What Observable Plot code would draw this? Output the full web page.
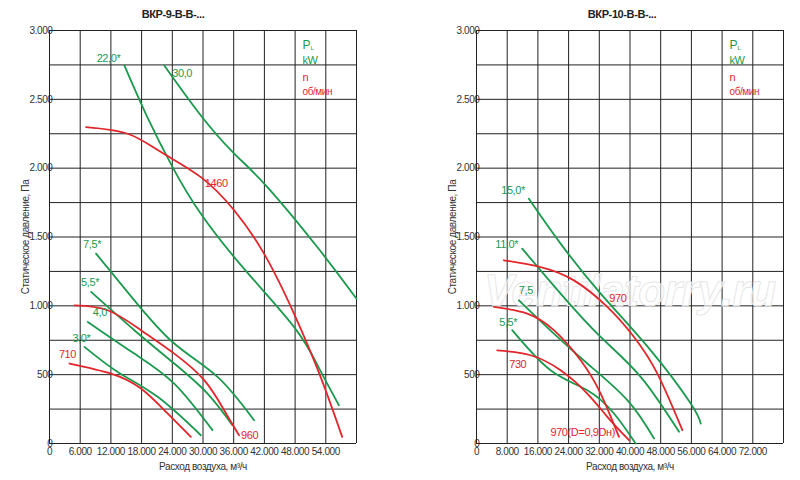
<!DOCTYPE html>
<html><head><meta charset="utf-8">
<script src="https://cdn.jsdelivr.net/npm/d3@7"></script>
<script src="https://cdn.jsdelivr.net/npm/@observablehq/plot@0.6"></script>
<style>
body{margin:0;background:#fff;}
#wrap{display:flex;width:800px;height:480px;}
</style></head><body><div id="wrap"></div>
<script>
// ---- Panel 1: ВКР-9-В-В-...
const title1 = "ВКР-9-В-В-...";
const xTicks1 = [0,6000,12000,18000,24000,30000,36000,42000,48000,54000];
const xGrid1 = [0,6000,12000,18000,24000,30000,36000,42000,48000,54000,60000];
const p22 = [[14630,2746],[19000,2380],[24050,2008],[29580,1669],[38000,1270],[47780,847],[52500,560],[56560,278]];
const p30 = [[22430,2746],[29580,2383],[36000,2110],[42580,1863],[52330,1427],[60000,1052]];
const n1460 = [[7150,2298],[15280,2250],[21780,2117],[29580,1935],[36080,1694],[41930,1379],[47780,944],[52980,484],[57200,48]];
const p75a = [[9100,1379],[16580,1040],[24380,726],[32830,484],[39980,169]];
const p55a = [[8130,1101],[16580,823],[24380,581],[30880,363],[35750,133]];
const p40 = [[7480,883],[16580,653],[24380,435],[31850,97]];
const p30a = [[6830,702],[13330,520],[21130,339],[29580,60]];
const n960 = [[4880,1004],[11380,968],[17880,823],[24380,653],[30230,460],[34130,242],[37050,60]];
const n710 = [[3900,581],[12030,508],[17880,399],[23080,218],[27630,48]];
const curves1 = [
  {pts:p22,c:"g",label:"22,0*",at:0,dx:-4,dy:-7,anchor:"end"},
  {pts:p30,c:"g",label:"30,0",at:0,dx:8,dy:8,anchor:"start"},
  {pts:n1460,c:"r",label:"1460",at:3,dx:4,dy:6,anchor:"start"},
  {pts:p75a,c:"g",label:"7,5*",at:0,dx:-4,dy:-9,anchor:"middle"},
  {pts:p55a,c:"g",label:"5,5*",at:0,dx:-1,dy:-9,anchor:"middle"},
  {pts:p40,c:"g",label:"4,0",at:0,dx:5,dy:-9,anchor:"start"},
  {pts:p30a,c:"g",label:"3,0*",at:0,dx:-3,dy:-8,anchor:"middle"},
  {pts:n960,c:"r",label:"960",at:6,dx:2,dy:0,anchor:"start"},
  {pts:n710,c:"r",label:"710",at:0,dx:-2,dy:-9,anchor:"middle"}
];
// ---- Panel 2: ВКР-10-В-В-...
const title2 = "ВКР-10-В-В-...";
const xTicks2 = [0,8000,16000,24000,32000,40000,48000,56000,64000,72000];
const xGrid2 = [0,8000,16000,24000,32000,40000,48000,56000,64000,72000,80000];
const p150 = [[13650,1778],[21910,1452],[32350,1089],[45390,677],[55830,290],[58430,145]];
const p110 = [[11910,1415],[21910,1089],[32350,774],[42780,484],[52780,85]];
const p75b = [[11040,1040],[20170,798],[28870,581],[39300,315],[46260,36]];
const p55b = [[9300,823],[19300,532],[28870,387],[35830,218],[41480,0]];
const n970 = [[7130,1331],[16700,1282],[25390,1185],[34090,992],[41040,774],[47130,508],[53650,97]];
const n970d = [[4520,992],[13220,944],[20170,823],[27130,605],[32350,363],[37130,48]];
const n730 = [[5390,677],[14090,641],[21910,532],[28870,363],[34090,194],[39740,24]];
const curves2 = [
  {pts:p150,c:"g",label:"15,0*",at:0,dx:-4,dy:-8,anchor:"end"},
  {pts:p110,c:"g",label:"11,0*",at:0,dx:-4,dy:-4,anchor:"end"},
  {pts:p75b,c:"g",label:"7,5",at:0,dx:0,dy:-10,anchor:"start"},
  {pts:p55b,c:"g",label:"5,5*",at:0,dx:-4,dy:-8,anchor:"middle"},
  {pts:n970,c:"r",label:"970",at:3,dx:2,dy:-8,anchor:"start"},
  {pts:n970d,c:"r",label:"970(D=0,9Dн)",at:5,dx:-4,dy:-4,anchor:"end"},
  {pts:n730,c:"r",label:"730",at:0,dx:12,dy:14,anchor:"start"}
];
const yTicks = [0,500,1000,1500,2000,2500,3000];
const yGrid = d3.range(0,3001,250);

const GREEN="#1b9a4e", RED="#e2262b";
const fmt = d => d===0 ? "0" : d3.format(",")(d).replace(/,/g,".");

function panel(title, xMax, xTicks, xGrid, curves, ml, mr, titleX, watermark){
  const lines=[], labels=[];
  curves.forEach((c,i)=>{
    c.pts.forEach(p=>lines.push({x:p[0],y:p[1],id:i,col:c.c==="g"?GREEN:RED}));
    const p=c.pts[c.at];
    labels.push({x:p[0],y:p[1],t:c.label,col:c.c==="g"?GREEN:RED,dx:c.dx,dy:c.dy,anchor:c.anchor});
  });
  const marks=[
    Plot.ruleX(xGrid,{stroke:"#222",strokeWidth:1}),
    Plot.ruleY(yGrid,{stroke:"#222",strokeWidth:1}),
  ];
  if(watermark) marks.push(Plot.text([watermark],{frameAnchor:"middle",dy:55,dx:0,text:d=>d,fontSize:44,fontStyle:"italic",fontWeight:"bold",fill:"#ffffff",fillOpacity:0.6,stroke:"#dcdcdc",strokeWidth:1}));
  marks.push(Plot.line(lines,{x:"x",y:"y",z:"id",stroke:"col",strokeWidth:1.8,curve:"natural"}));
  labels.forEach(l=>marks.push(Plot.text([l],{x:"x",y:"y",text:"t",fill:l.col,dx:l.dx,dy:l.dy,textAnchor:l.anchor,fontSize:11,stroke:"white",strokeWidth:0})));
  return Plot.plot({
    width:400,height:480,marginLeft:ml,marginRight:mr,marginTop:30,marginBottom:37,
    style:{fontFamily:'"Liberation Sans",Arial,sans-serif',fontSize:"10px",color:"#333",letterSpacing:"-0.4px"},
    x:{domain:[0,xMax],ticks:xTicks,tickFormat:fmt,tickSize:0,tickPadding:4,label:"Расход воздуха, м³/ч",labelAnchor:"center",labelOffset:26,labelArrow:"none"},
    y:{domain:[0,3000],ticks:yTicks,tickFormat:fmt,tickSize:0,tickPadding:-3,label:"Статическое давление, Па",labelAnchor:"center",labelOffset:28,labelArrow:"none"},
    marks:[
      ...marks,
      Plot.text([title],{frameAnchor:"top",dy:-20,dx:titleX,text:d=>d,fontWeight:"bold",fontSize:11,fill:"#222"}),
      Plot.text(["P"],{frameAnchor:"top-right",dx:-54,dy:10,text:d=>d,textAnchor:"start",fill:GREEN,fontSize:12}),
      Plot.text(["L"],{frameAnchor:"top-right",dx:-46,dy:15,text:d=>d,textAnchor:"start",fill:GREEN,fontSize:6}),
      Plot.text(["kW"],{frameAnchor:"top-right",dx:-54,dy:26,text:d=>d,textAnchor:"start",fill:GREEN,fontSize:11}),
      Plot.text(["n"],{frameAnchor:"top-right",dx:-54,dy:43,text:d=>d,textAnchor:"start",fill:RED,fontSize:11}),
      Plot.text(["об/мин"],{frameAnchor:"top-right",dx:-54,dy:57,text:d=>d,textAnchor:"start",fill:RED,fontSize:10})
    ]
  });
}
const wrap=document.getElementById("wrap");
wrap.appendChild(panel(title1,60000,xTicks1,xGrid1,curves1,49,44,-30,null));
wrap.appendChild(panel(title2,80000,xTicks2,xGrid2,curves2,76,17,-8,"Ventilatorry.ru"));
</script></body></html>
